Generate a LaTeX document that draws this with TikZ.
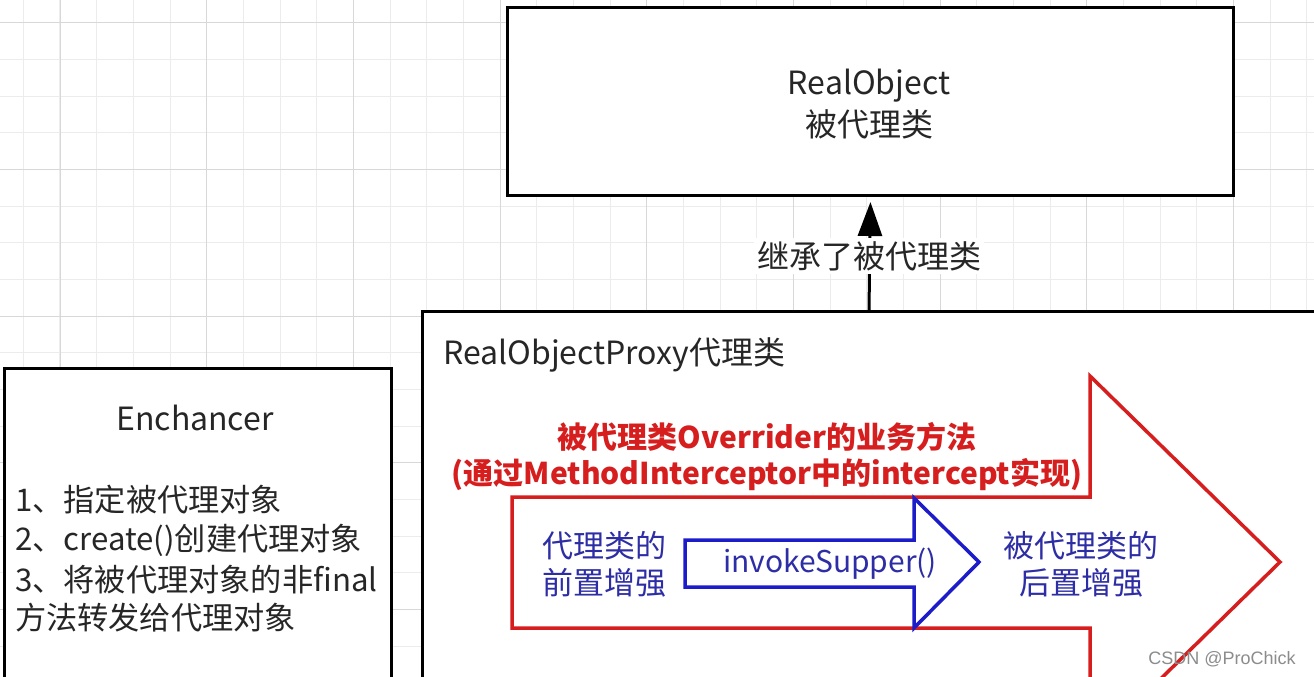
\documentclass[tikz,border=0pt]{standalone}
\usepackage{fontspec}
\setmainfont{Noto Sans CJK SC}
\newfontfamily\wmfont{Liberation Sans}
\usetikzlibrary{arrows.meta}
\definecolor{gridminor}{RGB}{236,236,236}
\definecolor{gridmajor}{RGB}{216,216,216}
\definecolor{myred}{RGB}{214,30,30}
\definecolor{myblue}{RGB}{28,28,200}
\definecolor{bluetext}{RGB}{45,45,165}
\definecolor{wmgray}{RGB}{140,140,140}
\tikzset{
  box/.style={draw=black, line width=3pt, fill=white, inner sep=0pt},
  txt/.style={inner sep=0pt, font=\fontsize{32}{40}\selectfont, text=black!85},
  listtxt/.style={inner sep=0pt, anchor=west, font=\fontsize{31.2}{40}\selectfont, text=black!85},
  redtxt/.style={inner sep=0pt, font=\fontsize{30}{36}\selectfont\bfseries, text=myred},
  bluetxt/.style={inner sep=0pt, align=center, font=\fontsize{31}{37}\selectfont, text=bluetext},
  bigarrow/.style={line width=3.5pt, fill=white, line join=miter}
}
\begin{document}
\begin{tikzpicture}[x=1pt,y=-1pt]
\useasboundingbox (0,0) rectangle (1314,677);
\clip (0,0) rectangle (1314,677);
\fill[white] (0,0) rectangle (1314,677);
% grid
\foreach \i in {0,...,35} \draw[gridminor, line width=1pt] ({23.33+36.667*\i},0) -- ++(0,677);
\foreach \i in {0,...,17} \draw[gridminor, line width=1pt] (0,{22.67+36.667*\i}) -- ++(1314,0);
\foreach \i in {0,...,8} \draw[gridmajor, line width=1pt] ({60+146.67*\i},0) -- ++(0,677);
\foreach \i in {0,...,4} \draw[gridmajor, line width=1pt] (0,{22.67+146.67*\i}) -- ++(1314,0);

% boxes
\node[box, anchor=north west, minimum width=726pt, minimum height=188pt] (realobj) at (506,6) {};
\node[box, anchor=north west, minimum width=1000pt, minimum height=500pt] (proxy) at (421,310) {};
\node[box, anchor=north west, minimum width=387pt, minimum height=400pt] (enh) at (3,367) {};

% RealObject text
\node[txt, align=center, font=\fontsize{32}{42}\selectfont] (rotext) at (869,104) {RealObject\\被代理类};

% inheritance connector
\coordinate (ptop) at (869,310);
\draw[line width=3pt, -{Triangle[length=34pt,width=24pt]}, shorten >=5pt] (ptop) -- (realobj.south);
\node[txt, fill=white, inner sep=3pt] (inh) at (869,256) {继承了被代理类};

% proxy title
\node[txt, anchor=west] (ptitle) at (443,355) {RealObjectProxy代理类};

% Enchancer texts
\node[txt] (etitle) at (195,418) {Enchancer};
\node[listtxt] (e1) at (15,500) {1、指定被代理对象};
\node[listtxt] (e2) at (15,540) {2、create()创建代理对象};
\node[listtxt] (e3) at (15,580) {3、将被代理对象的非final};
\node[listtxt] (e4) at (15,618) {方法转发给代理对象};

% big red arrow
\draw[bigarrow, draw=myred] (512,497) -- (1090,497) -- (1090,376) -- (1280,562) -- (1090,748) -- (1090,628) -- (512,628) -- cycle;
% blue arrow
\draw[bigarrow, draw=myblue] (685,540) -- (914,540) -- (914,498) -- (979,562) -- (914,628) -- (914,587) -- (685,587) -- cycle;

% red texts
\node[redtxt] (r1) at (767,437) {被代理类Overrider的业务方法};
\node[redtxt] (r2) at (767,475) {(通过MethodInterceptor中的intercept实现)};

% blue texts
\node[bluetxt] (pre) at (604,564) {代理类的\\前置增强};
\node[bluetxt, font=\fontsize{30}{34}\selectfont] (inv) at (830,564) {invokeSupper()};
\node[bluetxt] (post) at (1081,564) {被代理类的\\后置增强};

% watermark
\node[inner sep=0pt, text=wmgray, font=\wmfont\fontsize{18}{20}\selectfont] (wm) at (1222,659) {CSDN @ProChick};
\end{tikzpicture}
\end{document}
